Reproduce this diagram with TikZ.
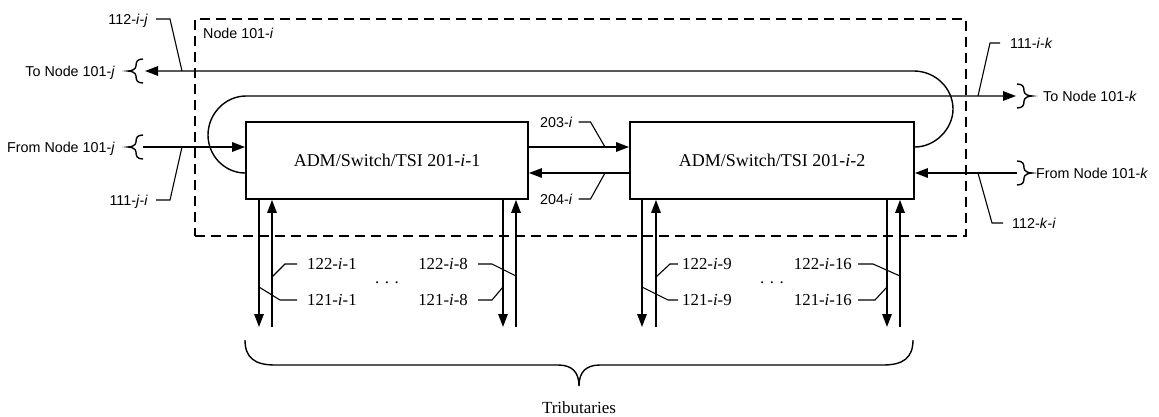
\documentclass[tikz,border=0pt]{standalone}
\usepackage{fontspec}
\setmainfont{Liberation Serif}
\newfontfamily\lsans{Liberation Sans}
\usetikzlibrary{arrows.meta,calc}
\newcommand\bracel[2]{\draw[ln,shift={(#1,#2)}] (15,-12) .. controls (9,-12) and (8,-9) .. (8,-5) .. controls (8,-2) and (4,0) .. (0,0) .. controls (4,0) and (8,2) .. (8,5) .. controls (8,9) and (9,12) .. (15,12);}
\newcommand\bracer[2]{\draw[ln,shift={(#1,#2)}] (-15,-12) .. controls (-9,-12) and (-8,-9) .. (-8,-5) .. controls (-8,-2) and (-4,0) .. (0,0) .. controls (-4,0) and (-8,2) .. (-8,5) .. controls (-8,9) and (-9,12) .. (-15,12);}
\begin{document}
\begin{tikzpicture}[x=1pt,y=-1pt,
  box/.style={draw,line width=1.8pt,inner sep=0pt,font=\fontsize{18}{20}\selectfont},
  sl/.style={inner sep=0pt,text depth=0pt,font=\lsans\fontsize{14.3}{16}\selectfont},
  rl/.style={inner sep=0pt,text depth=0pt,font=\fontsize{16.8}{18}\selectfont},
  ln/.style={line width=1.4pt},
  arr/.style={ln,-{Triangle[length=13pt,width=9.5pt]}},
  ld/.style={line width=1.1pt}]
\useasboundingbox (0,0) rectangle (1159,416);
% enclosing node
\node[draw,dash pattern=on 10pt off 6pt,line width=1.4pt,minimum width=771pt,minimum height=217pt,inner sep=0pt] (nd) at (580.5,127.5) {};
\node[sl,anchor=west] (ndl) at (203,33) {Node 101-\textit{i}};
% boxes
\node[box,minimum width=282pt,minimum height=77pt] (b1) at (387,160.5) {ADM/Switch/TSI 201-\textit{i}-1};
\node[box,minimum width=284pt,minimum height=77pt] (b2) at (772,160.5) {ADM/Switch/TSI 201-\textit{i}-2};
% coordinates
\coordinate (ya) at (0,147);
\coordinate (yb) at (0,173);
\coordinate (tj) at (145,71);
\coordinate (tk) at (1016,96);
\coordinate (fj) at (143,147);
\coordinate (fk) at (1017,173);
% side labels
\node[sl,anchor=east] (ltj) at (115,71) {To Node 101-\textit{j}};
\node[sl,anchor=east] (lfj) at (115,147) {From Node 101-\textit{j}};
\node[sl,anchor=west] (ltk) at (1043,96) {To Node 101-\textit{k}};
\node[sl,anchor=west] (lfk) at (1036,173) {From Node 101-\textit{k}};
\bracel{128}{71}
\bracel{128}{147}
\bracer{1032}{96}
\bracer{1032}{173}
% ring lines
\draw[arr] (b2.east |- ya) .. controls (935,147) and (953,129) .. (953,109) .. controls (953,88) and (935,71) .. (914,71) -- (tj);
\draw[arr] (b1.west |- yb) .. controls (225,173) and (208,156) .. (208,135) .. controls (208,114) and (225,96) .. (246,96) -- (tk);
\draw[arr] (fj) -- (b1.west |- ya);
\draw[arr] (fk) -- (b2.east |- yb);
\draw[arr] (b1.east |- ya) -- (b2.west |- ya);
\draw[arr] (b2.west |- yb) -- (b1.east |- yb);
% reference labels
\node[sl,anchor=east] (l112ij) at (148,19) {112-\textit{i}-\textit{j}};
\node[sl,anchor=east] (l111ji) at (148,200) {111-\textit{j}-\textit{i}};
\node[sl,anchor=west] (l203) at (540,122) {203-\textit{i}};
\node[sl,anchor=west] (l204) at (540,199) {204-\textit{i}};
\node[sl,anchor=west] (l111ik) at (1010,43) {111-\textit{i}-\textit{k}};
\node[sl,anchor=west] (l112ki) at (1012,223) {112-\textit{k}-\textit{i}};
\draw[ld] (l112ij.east) ++(8,0) -- ++(14,0) -- (182,71);
\draw[ld] (l111ji.east) ++(8,0) -- ++(14,0) -- (182,147);
\draw[ld] (l203.east) ++(6,0) -- ++(12,0) -- (605,147);
\draw[ld] (l204.east) ++(6,0) -- ++(12,0) -- (605,173);
\draw[ld] (l111ik.west) ++(-10,0) -- ++(-10,0) -- (978,96);
\draw[ld] (l112ki.west) ++(-9,0) -- ++(-11,0) -- (978,173);
% tributaries
\coordinate (d1) at (259,327); \coordinate (u1) at (272,327);
\coordinate (d8) at (503,327); \coordinate (u8) at (516,327);
\coordinate (d9) at (642,327); \coordinate (u9) at (656,327);
\coordinate (d16) at (887,327); \coordinate (u16) at (900,327);
\draw[arr] (b1.south -| d1) -- (d1);
\draw[arr] (u1) -- (b1.south -| u1);
\draw[arr] (b1.south -| d8) -- (d8);
\draw[arr] (u8) -- (b1.south -| u8);
\draw[arr] (b2.south -| d9) -- (d9);
\draw[arr] (u9) -- (b2.south -| u9);
\draw[arr] (b2.south -| d16) -- (d16);
\draw[arr] (u16) -- (b2.south -| u16);
\node[rl,anchor=west] (t122a) at (307,264) {122-\textit{i}-1};
\node[rl,anchor=west] (t121a) at (307,300) {121-\textit{i}-1};
\node[rl,anchor=east] (t122b) at (468,264) {122-\textit{i}-8};
\node[rl,anchor=east] (t121b) at (468,300) {121-\textit{i}-8};
\node[rl,anchor=west] (t122c) at (682,264) {122-\textit{i}-9};
\node[rl,anchor=west] (t121c) at (682,300) {121-\textit{i}-9};
\node[rl,anchor=east] (t122d) at (852,264) {122-\textit{i}-16};
\node[rl,anchor=east] (t121d) at (852,300) {121-\textit{i}-16};
\node[rl,anchor=base] (dots1) at (387,283) {.\,\,.\,\,.};
\node[rl,anchor=base] (dots2) at (772,283) {.\,\,.\,\,.};
\draw[ld] (t122a.west) ++(-10,0) -- ++(-12,0) -- (272,277);
\draw[ld] (t121a.west) ++(-10,0) -- ++(-17,0) -- (259,287);
\draw[ld] (t122b.east) ++(10,0) -- ++(14,0) -- (516,276);
\draw[ld] (t121b.east) ++(10,0) -- ++(14,0) -- (503,287);
\draw[ld] (t122c.west) ++(-4,0) -- ++(-8,0) -- (656,277);
\draw[ld] (t121c.west) ++(-4,0) -- ++(-10,0) -- (642,287);
\draw[ld] (t122d.east) ++(6,0) -- ++(15,0) -- (900,276);
\draw[ld] (t121d.east) ++(6,0) -- ++(17,0) -- (887,287);
% big brace
\draw[ln] (245,340) .. controls (245,358) and (255,365) .. (275,365) -- (558,365) .. controls (572,365) and (579,372) .. (579,386) .. controls (579,372) and (586,365) .. (600,365) -- (883,365) .. controls (903,365) and (913,358) .. (913,340);
\node[font=\fontsize{17}{19}\selectfont,anchor=base] (trib) at (579,413) {Tributaries};
\end{tikzpicture}
\end{document}
